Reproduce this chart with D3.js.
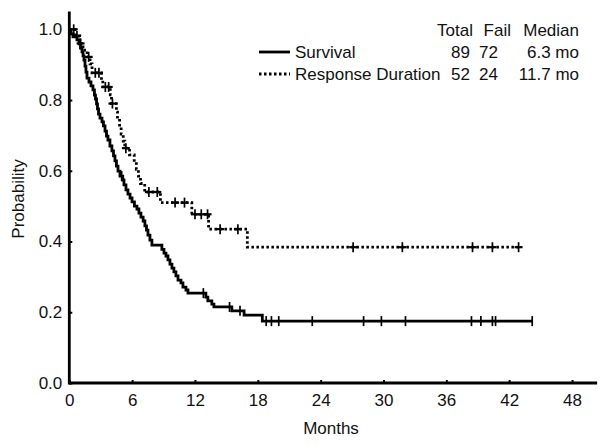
<!DOCTYPE html>
<html><head><meta charset="utf-8">
<script src="https://cdn.jsdelivr.net/npm/d3@7/dist/d3.min.js"></script>
<style>
html,body{margin:0;padding:0;background:#fff;}
text{font-family:"Liberation Sans",Arial,sans-serif;fill:#111;}
</style></head>
<body><svg id="chart" width="604" height="446"></svg>
<script>
// ---- data ----
const xTicks = [0, 6, 12, 18, 24, 30, 36, 42, 48];
const yTicks = [0, 0.2, 0.4, 0.6, 0.8, 1.0];

// Overall survival: step times (months) and probability after each step
const survTimes = [0, 0.16, 0.35, 0.73, 0.93, 1.07, 1.21, 1.31, 1.40, 1.50, 1.59, 1.69, 1.88, 2.07, 2.26, 2.40, 2.50, 2.60, 2.69, 2.79, 2.93, 3.12, 3.26, 3.41, 3.55, 3.69, 3.88, 4.07, 4.22, 4.36, 4.50, 4.65, 4.84, 5.10, 5.22, 5.41, 5.60, 5.80, 5.99, 6.22, 6.46, 6.65, 6.84, 7.05, 7.22, 7.37, 7.51, 7.70, 7.89, 8.84, 9.04, 9.23, 9.42, 9.61, 9.80, 9.99, 10.18, 10.38, 10.66, 10.85, 11.14, 11.33, 13.04, 13.23, 13.61, 13.81, 15.52, 16.69, 18.43];
const survProbs = [1.0, 0.987, 0.979, 0.970, 0.959, 0.947, 0.936, 0.925, 0.913, 0.896, 0.879, 0.862, 0.851, 0.840, 0.829, 0.814, 0.803, 0.789, 0.775, 0.760, 0.749, 0.738, 0.727, 0.712, 0.698, 0.687, 0.670, 0.656, 0.642, 0.628, 0.613, 0.599, 0.585, 0.574, 0.560, 0.546, 0.534, 0.523, 0.512, 0.500, 0.492, 0.480, 0.469, 0.458, 0.444, 0.432, 0.418, 0.404, 0.390, 0.378, 0.367, 0.359, 0.348, 0.336, 0.325, 0.314, 0.303, 0.291, 0.283, 0.271, 0.263, 0.254, 0.243, 0.232, 0.223, 0.215, 0.204, 0.192, 0.175];
const survCensor = [5.0, 12.8, 15.3, 16.3, 18.8, 19.3, 20.0, 23.2, 28.1, 29.8, 32.1, 38.4, 39.3, 40.4, 40.7, 44.2];
const survEnd = 44.2;

// Response duration
const respTimes = [0, 0.55, 1.0, 1.31, 1.70, 1.98, 2.17, 3.07, 3.20, 3.91, 4.03, 4.50, 4.60, 4.80, 4.95, 5.15, 5.30, 5.75, 6.20, 6.40, 6.60, 6.80, 7.20, 8.70, 11.70, 13.30, 17.00];
const respProbs = [1.0, 0.981, 0.960, 0.941, 0.922, 0.902, 0.877, 0.857, 0.837, 0.815, 0.790, 0.766, 0.747, 0.724, 0.704, 0.684, 0.664, 0.645, 0.625, 0.604, 0.585, 0.564, 0.540, 0.510, 0.477, 0.435, 0.384];
const respCensor = [0.42, 0.73, 1.08, 1.85, 2.48, 2.83, 3.44, 3.76, 4.12, 5.40, 7.60, 8.40, 10.1, 11.0, 12.0, 12.6, 13.2, 14.4, 16.1, 27.1, 31.8, 38.5, 40.4, 42.9];
const respEnd = 43.0;

const legendHeader = ["Total", "Fail", "Median"];
const legendNames = ["Survival", "Response Duration"];
const legendTotal = ["89", "52"];
const legendFail = ["72", "24"];
const legendMedian = ["6.3 mo", "11.7 mo"];

// ---- drawing ----
const FS = 17;
const svg = d3.select("#chart");
const x = d3.scaleLinear().domain([0, 48]).range([69.3, 572]);
const y = d3.scaleLinear().domain([0, 1]).range([383, 29.3]);
const xMax = 50.4, yMax = 1.05;

// axis lines
svg.append("line").attr("x1", x(0)).attr("x2", x(xMax)).attr("y1", y(0)).attr("y2", y(0))
  .attr("stroke", "#000").attr("stroke-width", 2.8);
svg.append("line").attr("x1", x(0)).attr("x2", x(0)).attr("y1", y(0) + 1.4).attr("y2", y(yMax))
  .attr("stroke", "#000").attr("stroke-width", 2.8);

const xAxis = svg.append("g").attr("transform", `translate(0,${y(0)})`)
  .call(d3.axisBottom(x).tickValues(xTicks).tickSize(-3).tickPadding(11).tickFormat(d3.format("d")));
xAxis.select(".domain").remove();
xAxis.selectAll("line").attr("stroke", "#000").attr("stroke-width", 2);
xAxis.selectAll("text").attr("font-size", FS).attr("fill", "#111").attr("font-family", "Liberation Sans, Arial, sans-serif");

const yAxis = svg.append("g").attr("transform", `translate(${x(0)},0)`)
  .call(d3.axisLeft(y).tickValues(yTicks).tickSize(-3).tickPadding(7).tickFormat(d3.format(".1f")));
yAxis.select(".domain").remove();
yAxis.selectAll("line").attr("stroke", "#000").attr("stroke-width", 2);
yAxis.selectAll("text").attr("font-size", FS).attr("fill", "#111").attr("font-family", "Liberation Sans, Arial, sans-serif");

svg.append("text").attr("x", 331).attr("y", 434).attr("text-anchor", "middle")
  .attr("font-size", FS).text("Months");
svg.append("text").attr("transform", "translate(24,199) rotate(-90)").attr("text-anchor", "middle")
  .attr("font-size", FS).text("Probability");

function stepPoints(times, probs, end) {
  const pts = times.map((t, i) => [t, probs[i]]);
  pts.push([end, probs[probs.length - 1]]);
  return pts;
}
function probAt(times, probs, t) {
  const i = d3.bisectRight(times, t) - 1;
  return probs[Math.max(0, i)];
}
const line = d3.line().x(d => x(d[0])).y(d => y(d[1])).curve(d3.curveStepAfter);

function drawCurve(times, probs, end, censor, dash) {
  svg.append("path").datum(stepPoints(times, probs, end))
    .attr("d", line).attr("fill", "none").attr("stroke", "#000")
    .attr("stroke-width", 2.8).attr("stroke-dasharray", dash)
    .attr("stroke-linejoin", "miter");
  svg.append("g").selectAll("line").data(censor).join("line")
    .attr("x1", d => x(d)).attr("x2", d => x(d))
    .attr("y1", d => y(probAt(times, probs, d)) - 5)
    .attr("y2", d => y(probAt(times, probs, d)) + 5)
    .attr("stroke", "#000").attr("stroke-width", 1.7);
  if (dash) {
    svg.append("g").selectAll("line").data(censor).join("line")
      .attr("x1", d => x(d) - 4).attr("x2", d => x(d) + 4)
      .attr("y1", d => y(probAt(times, probs, d)))
      .attr("y2", d => y(probAt(times, probs, d)))
      .attr("stroke", "#000").attr("stroke-width", 2.2);
  }
}
drawCurve(survTimes, survProbs, survEnd, survCensor, null);
drawCurve(respTimes, respProbs, respEnd, respCensor, "2.5,2.5");

// legend
const lg = svg.append("g");
const rowY = [58, 80];
const headY = 36;
lg.append("text").attr("x", 473).attr("y", headY).attr("text-anchor", "end").attr("font-size", FS).text(legendHeader[0]);
lg.append("text").attr("x", 511).attr("y", headY).attr("text-anchor", "end").attr("font-size", FS).text(legendHeader[1]);
lg.append("text").attr("x", 579).attr("y", headY).attr("text-anchor", "end").attr("font-size", FS).text(legendHeader[2]);
legendNames.forEach((n, i) => {
  lg.append("line").attr("x1", 259).attr("x2", 290).attr("y1", rowY[i] - 6).attr("y2", rowY[i] - 6)
    .attr("stroke", "#000").attr("stroke-width", 2.8).attr("stroke-dasharray", i === 1 ? "2.5,2.5" : null);
  lg.append("text").attr("x", 295).attr("y", rowY[i]).attr("font-size", FS).text(n);
  lg.append("text").attr("x", 470).attr("y", rowY[i]).attr("text-anchor", "end").attr("font-size", FS).text(legendTotal[i]);
  lg.append("text").attr("x", 498).attr("y", rowY[i]).attr("text-anchor", "end").attr("font-size", FS).text(legendFail[i]);
  lg.append("text").attr("x", 579).attr("y", rowY[i]).attr("text-anchor", "end").attr("font-size", FS).text(legendMedian[i]);
});
</script></body></html>
